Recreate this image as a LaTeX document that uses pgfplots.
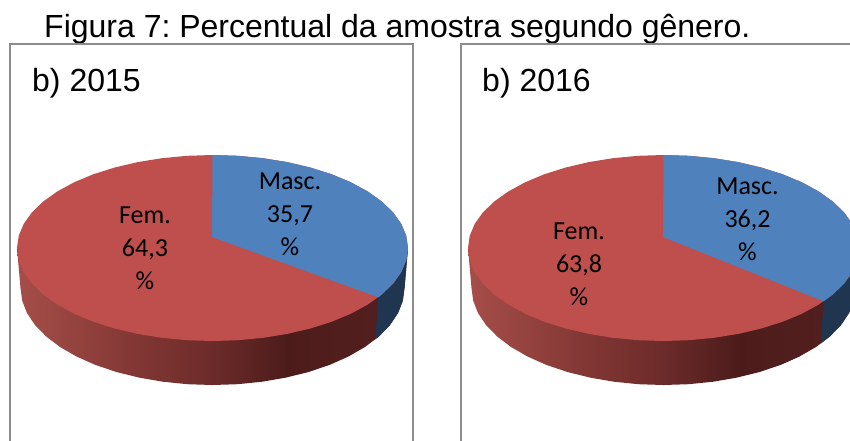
\documentclass[border=0pt]{standalone}
\usepackage{fontspec}
\setmainfont{Liberation Sans}
\newfontfamily\calibri{Carlito}
\usepackage{pgfplots}
\usepackage{pgfplotstable}
\pgfplotsset{compat=1.18}
\frenchspacing
\definecolor{pieBlue}{HTML}{4F81BD}
\definecolor{pieRed}{HTML}{BE4F4C}
\definecolor{wallBlue}{HTML}{1F3550}
\definecolor{frameGray}{HTML}{8C8C8C}
\pgfdeclarehorizontalshading{wallred}{100bp}{
 color(0bp)=({rgb,255:red,166;green,78;blue,73});
 color(25bp)=({rgb,255:red,166;green,78;blue,73});
 color(40bp)=({rgb,255:red,130;green,55;blue,52});
 color(50bp)=({rgb,255:red,108;green,43;blue,42});
 color(59.5bp)=({rgb,255:red,76;green,28;blue,27});
 color(75bp)=({rgb,255:red,84;green,32;blue,31});
 color(100bp)=({rgb,255:red,84;green,32;blue,31})}
% top face outline (offsets from the centre of the ellipse)
\pgfplotstableread{
x y
0 -93
25.5 -92.2
50.6 -89.8
74.8 -85.9
97.75 -80.5
119 -73.8
138.2 -65.8
155.1 -56.6
169.3 -46.5
180.6 -35.6
188.8 -24.1
193.8 -12.1
195.5 0
193.8 12.1
188.8 24.1
180.6 35.6
169.3 46.5
155.1 56.6
138.2 65.8
119 73.8
97.75 80.5
74.8 85.9
50.6 89.8
25.5 92.2
0 93
-25.5 92.2
-50.6 89.8
-74.8 85.9
-97.75 80.5
-119 73.8
-138.2 65.8
-155.1 56.6
-169.3 46.5
-180.6 35.6
-188.8 24.1
-193.8 12.1
-195.5 0
-193.8 -12.1
-188.8 -24.1
-180.6 -35.6
-169.3 -46.5
-155.1 -56.6
-138.2 -65.8
-119 -73.8
-97.75 -80.5
-74.8 -85.9
-50.6 -89.8
-25.5 -92.2
}\topface
% side wall outline
\pgfplotstableread{
x y
195.5 0
192 40
190.3 52.7
185.5 65.1
177.4 77.1
166.3 88.5
152.3 99.1
135.8 108.6
116.9 117
96 124
73.5 129.6
49.7 133.7
25.1 136.2
0 137
-25.1 136.2
-49.7 133.7
-73.5 129.6
-96 124
-116.9 117
-135.8 108.6
-152.3 99.1
-166.3 88.5
-177.4 77.1
-185.5 65.1
-190.3 52.7
-192 40
-195.5 0
}\wall
% Masc. slice, 2015
\pgfplotstableread{
x y
-0.5 -11
0 -93
25.5 -92.2
50.6 -89.8
74.8 -85.9
97.75 -80.5
119 -73.8
138.2 -65.8
155.1 -56.6
169.3 -46.5
180.6 -35.6
188.8 -24.1
193.8 -12.1
195.5 0
193.8 12.1
188.8 24.1
180.6 35.6
169.3 46.5
165.8 49.3
}\mascA
\pgfplotstableread{
x y
195.5 0
192 40
190.3 52.7
185.5 65.1
177.4 77.1
166.3 88.5
162.8 91.4
165.8 49.3
}\mascWallA
% Masc. slice, 2016
\pgfplotstableread{
x y
-0.5 -11
0 -93
25.5 -92.2
50.6 -89.8
74.8 -85.9
97.75 -80.5
119 -73.8
138.2 -65.8
155.1 -56.6
169.3 -46.5
180.6 -35.6
188.8 -24.1
193.8 -12.1
195.5 0
193.8 12.1
188.8 24.1
180.6 35.6
169.3 46.5
160.1 53.3
}\mascB
\pgfplotstableread{
x y
195.5 0
192 40
190.3 52.7
185.5 65.1
177.4 77.1
166.3 88.5
157.3 95.6
160.1 53.3
}\mascWallB
\pgfplotsset{pieaxis/.style={
  scale only axis, anchor=north west, height=416pt,
  ymin=-204, ymax=212, y dir=reverse,
  xmin=-202.5,
  xtick=\empty, ytick=\empty, no markers,
  axis line style={draw=frameGray,line width=1.3pt},
  axis on top, clip=true}}
\tikzset{lab/.style={font=\calibri\fontsize{26}{33}\selectfont,align=center,text=black}}
\begin{document}
\begin{tikzpicture}
\useasboundingbox (0,0) rectangle (850pt,-441pt);
\clip (0,0) rectangle (850pt,-441pt);
\node[anchor=base west,inner sep=0pt,font=\fontsize{32}{36}\selectfont] at (44pt,-38pt) {Figura 7: Percentual da amostra segundo gênero.};
\begin{axis}[pieaxis, at={(10pt,-44pt)}, width=403pt, xmax=200.5]
 \addplot[draw=none,shade,shading=wallred] table[x=x,y=y] {\wall} --cycle;
 \addplot[draw=none,fill=wallBlue] table[x=x,y=y] {\mascWallA} --cycle;
 \addplot[draw=none,fill=pieRed] table[x=x,y=y] {\topface} --cycle;
 \addplot[draw=none,fill=pieBlue] table[x=x,y=y] {\mascA} --cycle;
 \node[lab] at (axis cs:77.5,-34) {Masc.\\35,7\\\%};
 \node[lab] at (axis cs:-67.5,0) {Fem.\\64,3\\\%};
 \node[anchor=base west,inner sep=0pt,font=\fontsize{32}{36}\selectfont] at (axis cs:-180.5,-156.5) {b) 2015};
\end{axis}
\begin{axis}[pieaxis, at={(461pt,-44pt)}, width=419pt, xmax=216.5]
 \addplot[draw=none,shade,shading=wallred] table[x=x,y=y] {\wall} --cycle;
 \addplot[draw=none,fill=wallBlue] table[x=x,y=y] {\mascWallB} --cycle;
 \addplot[draw=none,fill=pieRed] table[x=x,y=y] {\topface} --cycle;
 \addplot[draw=none,fill=pieBlue] table[x=x,y=y] {\mascB} --cycle;
 \node[lab] at (axis cs:84,-28.5) {Masc.\\36,2\\\%};
 \node[lab] at (axis cs:-84.5,16) {Fem.\\63,8\\\%};
 \node[anchor=base west,inner sep=0pt,font=\fontsize{32}{36}\selectfont] at (axis cs:-181.5,-156.5) {b) 2016};
\end{axis}
\end{tikzpicture}
\end{document}
